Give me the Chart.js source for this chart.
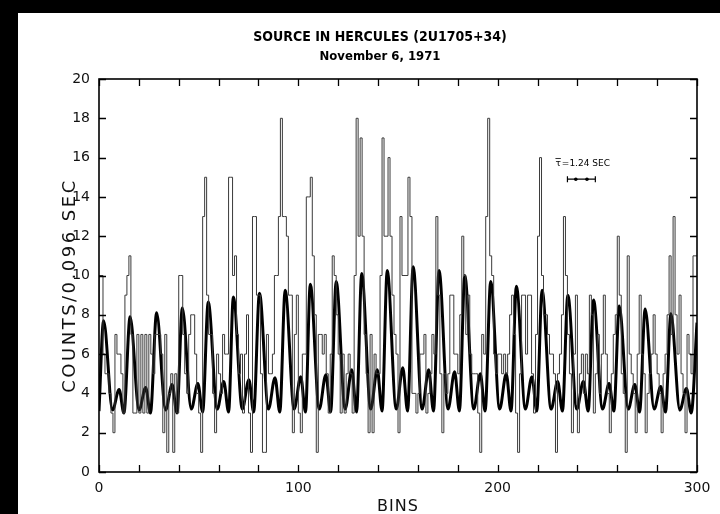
<!DOCTYPE html>
<html>
<head>
<meta charset="utf-8">
<script src="https://cdn.jsdelivr.net/npm/chart.js@4.4.1/dist/chart.umd.min.js"></script>
<style>
  html, body { margin: 0; padding: 0; background: #000; width: 720px; height: 514px; overflow: hidden; }
  #paper { position: absolute; left: 18px; top: 13px; width: 702px; height: 501px; background: #fff; }
  #wrap { position: absolute; left: 0; top: 0; width: 720px; height: 514px; }
</style>
</head>
<body>
<div id="paper"></div>
<div id="wrap"><canvas id="c" width="720" height="514"></canvas></div>
<script>
// ---- data ----
const titleText = 'SOURCE IN HERCULES (2U1705+34)';
const subtitleText = 'November 6, 1971';
const yAxisTitle = 'COUNTS/0.096 SEC';
const xAxisTitle = 'BINS';
const xTickLabels = [0, 100, 200, 300];
const yTickValues = [0, 2, 4, 6, 8, 10, 12, 14, 16, 18, 20];

// counts per 0.096 s bin (bins 0..299)
const counts = [
  8,10,10,6,5,5,4,3,2,7,
  6,6,5,3,9,10,11,7,3,3,
  7,3,7,3,7,3,7,6,5,7,
  7,7,6,2,7,1,4,5,1,5,
  3,10,10,7,5,4,7,8,8,6,
  4,3,1,13,15,9,7,7,4,2,
  6,5,4,7,6,6,15,15,10,11,
  7,5,6,3,6,8,3,1,13,13,
  9,9,5,1,1,7,5,5,6,10,
  10,13,18,13,13,12,9,9,2,7,
  9,3,2,6,6,14,14,15,11,8,
  1,7,7,6,7,5,3,6,11,10,
  8,6,3,6,3,5,6,5,3,10,
  18,12,17,12,7,5,2,7,2,6,
  5,5,10,17,12,12,16,12,9,7,
  6,2,13,10,10,10,15,13,4,4,
  3,4,6,6,7,3,4,5,7,6,
  13,9,5,2,5,4,5,9,9,6,
  6,5,8,12,10,7,9,6,5,5,
  5,3,1,7,6,13,18,11,10,6,
  5,6,6,5,6,5,6,8,9,7,
  3,1,5,9,9,6,9,9,5,3,
  7,12,16,10,8,8,7,6,6,5,
  1,5,6,8,13,10,7,5,2,6,
  9,2,5,6,4,6,5,9,8,3,
  5,7,4,6,9,6,4,2,5,7,
  8,12,9,5,4,1,11,6,5,4,
  2,6,9,6,5,2,4,5,6,8,
  6,5,4,2,5,6,8,11,7,13,
  8,6,9,5,4,2,7,6,5,11
];

// smooth fitted curve: key points (bin position, counts)
const curveX = [
  0, 2.3, 6.8, 10.1, 12.5,
  15.6, 20.1, 23.4, 25.8,
  28.9, 33.4, 36.7, 39.1,
  41.8, 46.3, 49.6, 52.0,
  54.8, 59.3, 62.6, 65.0,
  67.4, 71.9, 75.2, 77.6,
  80.5, 85.0, 88.3, 90.7,
  93.4, 97.9, 101.2, 103.6,
  106.0, 110.5, 113.8, 116.2,
  119.0, 123.5, 126.8, 129.2,
  131.8, 136.3, 139.6, 142.0,
  144.6, 149.1, 152.4, 154.8,
  157.6, 162.1, 165.4, 167.8,
  170.6, 175.1, 178.4, 180.8,
  183.5, 188.0, 191.3, 193.7,
  196.5, 201.0, 204.3, 206.7,
  209.4, 213.9, 217.2, 219.6,
  222.3, 226.8, 230.1, 232.5,
  235.2, 239.7, 243.0, 245.4,
  248.1, 252.6, 255.9, 258.3,
  261.0, 265.5, 268.8, 271.2,
  274.0, 278.5, 281.8, 284.2,
  286.9, 291.4, 294.7, 297.1,
  300
];
const curveY = [
  3.1, 7.7, 3.15, 4.2, 3.0,
  7.9, 3.15, 4.3, 3.0,
  8.1, 3.15, 4.45, 3.0,
  8.35, 3.2, 4.5, 3.05,
  8.65, 3.2, 4.6, 3.05,
  8.9, 3.2, 4.7, 3.05,
  9.1, 3.2, 4.8, 3.05,
  9.25, 3.2, 4.85, 3.05,
  9.55, 3.2, 4.95, 3.05,
  9.7, 3.2, 5.2, 3.05,
  10.1, 3.2, 5.2, 3.1,
  10.25, 3.2, 5.3, 3.1,
  10.45, 3.2, 5.2, 3.1,
  10.25, 3.2, 5.1, 3.1,
  10.0, 3.2, 5.0, 3.1,
  9.7, 3.2, 5.0, 3.1,
  9.45, 3.2, 4.85, 3.1,
  9.25, 3.2, 4.6, 3.1,
  9.0, 3.2, 4.6, 3.1,
  8.75, 3.2, 4.5, 3.1,
  8.45, 3.2, 4.45, 3.05,
  8.3, 3.2, 4.35, 3.05,
  8.05, 3.15, 4.25, 3.0,
  7.6
];

// period marker annotation
const periodLabel = '=1.24 SEC';
const periodBar = { from: 235, to: 249, y: 14.9, labelY: 15.7 };

// ---- chart ----
const histData = counts.map((v, i) => ({ x: i, y: v }));
histData.push({ x: counts.length, y: counts[counts.length - 1] });
const curveData = curveX.map((x, i) => ({ x: x, y: curveY[i] }));

const LIGHT = '"DejaVu Sans ExtraLight", "DejaVu Sans", sans-serif';

const decor = {
  id: 'decor',
  afterDraw(chart) {
    const { ctx, chartArea: a, scales: { x, y } } = chart;
    ctx.save();
    // frame
    ctx.strokeStyle = '#000';
    ctx.lineWidth = 1.6;
    ctx.strokeRect(a.left, a.top, a.right - a.left, a.bottom - a.top);
    // inward ticks
    ctx.lineWidth = 1.3;
    ctx.beginPath();
    x.ticks.forEach(t => {
      const px = Math.round(x.getPixelForValue(t.value)) + 0.5;
      ctx.moveTo(px, a.bottom); ctx.lineTo(px, a.bottom - 7);
      ctx.moveTo(px, a.top); ctx.lineTo(px, a.top + 7);
    });
    y.ticks.forEach(t => {
      const py = Math.round(y.getPixelForValue(t.value)) + 0.5;
      ctx.moveTo(a.left, py); ctx.lineTo(a.left + 7, py);
      ctx.moveTo(a.right, py); ctx.lineTo(a.right - 7, py);
    });
    ctx.stroke();

    // titles
    ctx.fillStyle = '#000';
    ctx.textAlign = 'center';
    ctx.textBaseline = 'alphabetic';
    ctx.font = 'bold 14px "DejaVu Sans Condensed", "Liberation Sans Narrow", sans-serif';
    ctx.fillText(titleText, 380, 41);
    ctx.font = 'bold 13px "DejaVu Sans Condensed", "Liberation Sans Narrow", sans-serif';
    ctx.fillText(subtitleText, 380, 60);

    // axis titles
    ctx.fillStyle = '#111';
    ctx.font = '16px ' + LIGHT;
    try { ctx.letterSpacing = '1px'; } catch (e) {}
    ctx.fillText(xAxisTitle, (a.left + a.right) / 2, 511);
    ctx.save();
    ctx.font = '18px ' + LIGHT;
    try { ctx.letterSpacing = '2.5px'; } catch (e) {}
    ctx.translate(75, (a.top + a.bottom) / 2 + 10);
    ctx.rotate(-Math.PI / 2);
    ctx.fillText(yAxisTitle, 0, 0);
    ctx.restore();
    try { ctx.letterSpacing = '0px'; } catch (e) {}

    // period annotation
    const x0 = x.getPixelForValue(periodBar.from);
    const x1 = x.getPixelForValue(periodBar.to);
    const by = y.getPixelForValue(periodBar.y);
    const ly = y.getPixelForValue(periodBar.labelY);
    ctx.fillStyle = '#000';
    ctx.lineWidth = 1.2;
    ctx.strokeStyle = '#000';
    ctx.beginPath();
    ctx.moveTo(x0, by); ctx.lineTo(x1, by);
    ctx.moveTo(x0, by - 3); ctx.lineTo(x0, by + 3);
    ctx.moveTo(x1, by - 3); ctx.lineTo(x1, by + 3);
    ctx.stroke();
    [0.3, 0.7].forEach(f => {
      ctx.beginPath();
      ctx.arc(x0 + (x1 - x0) * f, by, 1.8, 0, Math.PI * 2);
      ctx.fill();
    });
    ctx.font = '9px "DejaVu Sans", sans-serif';
    ctx.textAlign = 'left';
    const tx = x.getPixelForValue(periodBar.from) - 12;
    ctx.fillText('τ', tx, ly + 3);
    const tw = ctx.measureText('τ').width;
    ctx.beginPath();
    ctx.moveTo(tx, ly - 5); ctx.lineTo(tx + tw, ly - 5);
    ctx.lineWidth = 0.8;
    ctx.stroke();
    ctx.fillText(periodLabel, tx + tw + 1, ly + 3);
    ctx.restore();
  }
};

new Chart(document.getElementById('c'), {
  type: 'line',
  data: {
    datasets: [
      {
        label: 'counts',
        data: histData,
        stepped: 'after',
        borderColor: '#3a3a3a',
        borderWidth: 1,
        pointRadius: 0,
        fill: false
      },
      {
        label: 'fit',
        data: curveData,
        cubicInterpolationMode: 'monotone',
        borderColor: '#000',
        borderWidth: 3,
        pointRadius: 0,
        fill: false
      }
    ]
  },
  options: {
    responsive: false,
    animation: false,
    devicePixelRatio: 1,
    layout: { padding: { left: 0, right: 23, top: 79, bottom: 0 } },
    plugins: { legend: { display: false }, title: { display: false }, tooltip: { enabled: false } },
    scales: {
      x: {
        type: 'linear', min: 0, max: 300,
        grid: { display: false },
        border: { display: false },
        ticks: {
          stepSize: 20,
          autoSkip: false,
          maxRotation: 0,
          padding: 0,
          color: '#111',
          font: { family: LIGHT, size: 14 },
          callback: v => (xTickLabels.includes(v) ? String(v) : '')
        },
        afterFit: s => { s.height = 42; }
      },
      y: {
        min: 0, max: 20,
        grid: { display: false },
        border: { display: false },
        afterBuildTicks: s => { s.ticks = yTickValues.map(v => ({ value: v })); },
        ticks: {
          padding: 1,
          color: '#111',
          font: { family: LIGHT, size: 14 },
          callback: v => String(v)
        },
        afterFit: s => { s.width = 99; }
      }
    }
  },
  plugins: [decor]
});
</script>
</body>
</html>
